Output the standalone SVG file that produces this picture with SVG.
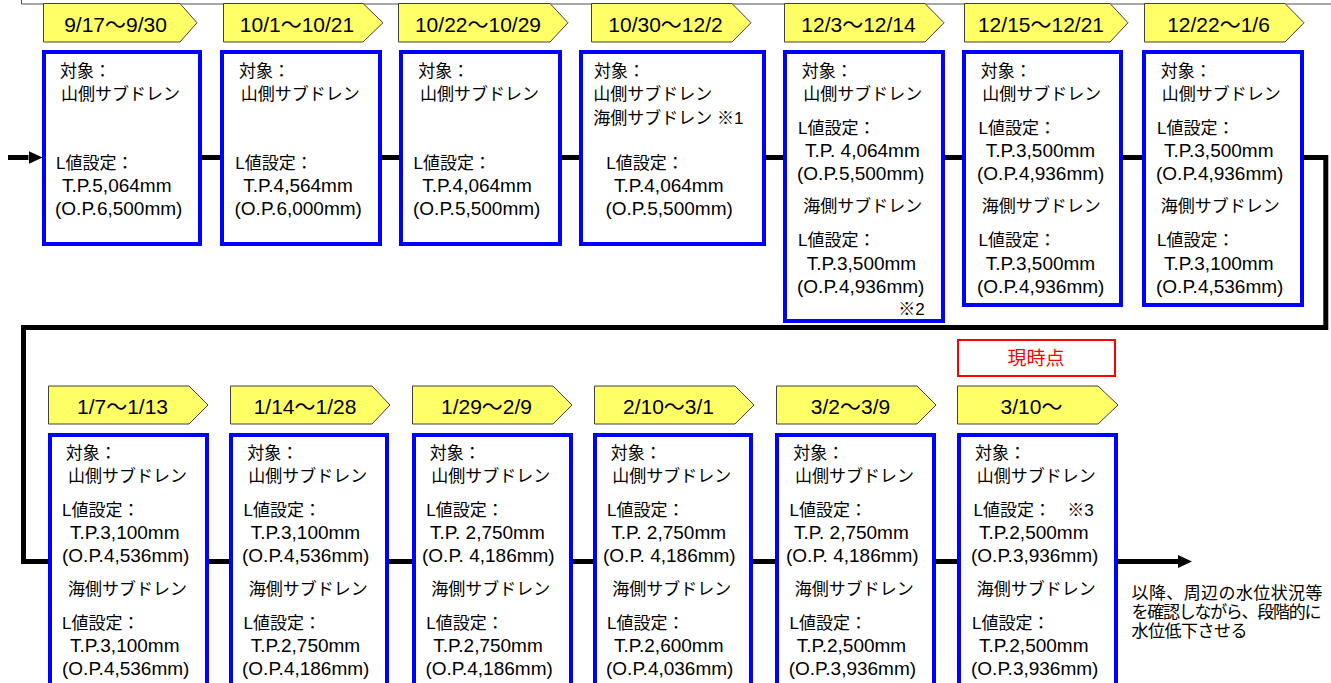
<svg xmlns="http://www.w3.org/2000/svg" width="1331" height="683" viewBox="0 0 1331 683">
<style>
.tag{fill:#FFFF66;stroke:#404040;stroke-width:1}
.box{fill:#fff;stroke:#0000FF;stroke-width:4}
.frame{fill:none;stroke:#505050;stroke-width:1}
.conn{fill:none;stroke:#000;stroke-width:5}
text{font-family:"Liberation Sans","Noto Sans CJK JP",sans-serif;fill:#000}
.tt{font-size:21px;text-anchor:middle}
.j{font-size:17px}
.n{font-size:19px}
.now{font-size:19px;fill:#FF0000;text-anchor:middle}
.nowbox{fill:#fff;stroke:#FF0000;stroke-width:2}
</style>
<defs>
<marker id="ah" markerUnits="userSpaceOnUse" markerWidth="14" markerHeight="13" refX="0" refY="6.5" orient="auto">
<path d="M0,0 L14,6.5 L0,13 z" fill="#000"/>
</marker>
</defs>
<rect width="1331" height="683" fill="#fff"/>
<path class="frame" d="M21.5,0 V4 H1331"/>

<g id="connectors">
<path class="conn" d="M8,157.5 H28.5" marker-end="url(#ah)"/>
<path class="conn" d="M190,157.5 H1325.8 V327.5 H23.5 V561.5 H1178" marker-end="url(#ah)"/>
</g>

<g id="tags">
<g id="tag1"><polygon class="tag" points="43.5,3.5 180,3.5 197,22.75 180,42 43.5,42"/><text class="tt" x="115.5" y="31.5">9/17〜9/30</text></g>
<g id="tag2"><polygon class="tag" points="223.5,3.5 363,3.5 383,22.75 363,42 223.5,42"/><text class="tt" x="297" y="31.5">10/1〜10/21</text></g>
<g id="tag3"><polygon class="tag" points="398.5,3.5 550,3.5 568,22.75 550,42 398.5,42"/><text class="tt" x="478" y="31.5">10/22〜10/29</text></g>
<g id="tag4"><polygon class="tag" points="591.5,3.5 732,3.5 751,22.75 732,42 591.5,42"/><text class="tt" x="665.5" y="31.5">10/30〜12/2</text></g>
<g id="tag5"><polygon class="tag" points="784.5,3.5 925,3.5 944,22.75 925,42 784.5,42"/><text class="tt" x="858.5" y="31.5">12/3〜12/14</text></g>
<g id="tag6"><polygon class="tag" points="964.5,3.5 1110,3.5 1128,22.75 1110,42 964.5,42"/><text class="tt" x="1041" y="31.5">12/15〜12/21</text></g>
<g id="tag7"><polygon class="tag" points="1144.5,3.5 1285,3.5 1304,22.75 1285,42 1144.5,42"/><text class="tt" x="1218.5" y="31.5">12/22〜1/6</text></g>
<g id="tag8"><polygon class="tag" points="48.5,386 189,386 208,405 189,424 48.5,424"/><text class="tt" x="122.5" y="414">1/7〜1/13</text></g>
<g id="tag9"><polygon class="tag" points="230.5,386 372,386 390,405 372,424 230.5,424"/><text class="tt" x="305" y="414">1/14〜1/28</text></g>
<g id="tag10"><polygon class="tag" points="412.5,386 553,386 572,405 553,424 412.5,424"/><text class="tt" x="486.5" y="414">1/29〜2/9</text></g>
<g id="tag11"><polygon class="tag" points="594.5,386 735,386 754,405 735,424 594.5,424"/><text class="tt" x="668.5" y="414">2/10〜3/1</text></g>
<g id="tag12"><polygon class="tag" points="776.5,386 917,386 936,405 917,424 776.5,424"/><text class="tt" x="850.5" y="414">3/2〜3/9</text></g>
<g id="tag13"><polygon class="tag" points="957.5,386 1098,386 1118,405 1098,424 957.5,424"/><text class="tt" x="1031.5" y="414">3/10〜</text></g>
</g>

<g id="now">
<rect class="nowbox" x="958" y="340" width="157" height="36"/>
<text class="now" x="1036" y="364.5">現時点</text>
</g>

<g id="box1">
<rect class="box" x="44" y="52" width="156" height="192"/>
<text class="j" x="60" y="77">対象：</text>
<text class="j" x="61" y="100">山側サブドレン</text>
<text class="j" x="56" y="169">L値設定：</text>
<text class="n" x="62" y="192">T.P.5,064mm</text>
<text class="n" x="55" y="215">(O.P.6,500mm)</text>
</g>
<g id="box2">
<rect class="box" x="222" y="52" width="158" height="192"/>
<text class="j" x="239" y="77">対象：</text>
<text class="j" x="240.7" y="100">山側サブドレン</text>
<text class="j" x="235.3" y="169">L値設定：</text>
<text class="n" x="243.3" y="192">T.P.4,564mm</text>
<text class="n" x="234.5" y="215">(O.P.6,000mm)</text>
</g>
<g id="box3">
<rect class="box" x="401" y="52" width="159" height="192"/>
<text class="j" x="418.3" y="77">対象：</text>
<text class="j" x="420" y="100">山側サブドレン</text>
<text class="j" x="413.6" y="169">L値設定：</text>
<text class="n" x="422.3" y="192">T.P.4,064mm</text>
<text class="n" x="413" y="215">(O.P.5,500mm)</text>
</g>
<g id="box4">
<rect class="box" x="581" y="52" width="183" height="192"/>
<text class="j" x="594" y="77">対象：</text>
<text class="j" x="593.3" y="100">山側サブドレン</text>
<text class="j" x="593.3" y="124">海側サブドレン ※1</text>
<text class="j" x="606.3" y="169">L値設定：</text>
<text class="n" x="614" y="192">T.P.4,064mm</text>
<text class="n" x="605.4" y="215">(O.P.5,500mm)</text>
</g>
<g id="box5">
<rect class="box" x="785" y="52" width="158" height="269"/>
<text class="j" x="801.7" y="77">対象：</text>
<text class="j" x="803.3" y="100">山側サブドレン</text>
<text class="j" x="798" y="134">L値設定：</text>
<text class="n" x="805" y="157">T.P. 4,064mm</text>
<text class="n" x="797" y="180">(O.P.5,500mm)</text>
<text class="j" x="803.3" y="212">海側サブドレン</text>
<text class="j" x="798" y="246">L値設定：</text>
<text class="n" x="806.7" y="270">T.P.3,500mm</text>
<text class="n" x="797" y="293">(O.P.4,936mm)</text>
<text class="j" x="898.3" y="315">※2</text>
</g>
<g id="box6">
<rect class="box" x="964" y="52" width="157" height="253"/>
<text class="j" x="980.7" y="77">対象：</text>
<text class="j" x="982.3" y="100">山側サブドレン</text>
<text class="j" x="978.6" y="134">L値設定：</text>
<text class="n" x="985.7" y="157">T.P.3,500mm</text>
<text class="n" x="977" y="180">(O.P.4,936mm)</text>
<text class="j" x="981.7" y="212">海側サブドレン</text>
<text class="j" x="978.6" y="246">L値設定：</text>
<text class="n" x="985.7" y="270">T.P.3,500mm</text>
<text class="n" x="977" y="293">(O.P.4,936mm)</text>
</g>
<g id="box7">
<rect class="box" x="1144" y="52" width="158" height="253"/>
<text class="j" x="1160.7" y="77">対象：</text>
<text class="j" x="1161.7" y="100">山側サブドレン</text>
<text class="j" x="1157" y="134">L値設定：</text>
<text class="n" x="1164" y="157">T.P.3,500mm</text>
<text class="n" x="1156" y="180">(O.P.4,936mm)</text>
<text class="j" x="1160.7" y="212">海側サブドレン</text>
<text class="j" x="1157" y="246">L値設定：</text>
<text class="n" x="1164" y="270">T.P.3,100mm</text>
<text class="n" x="1156" y="293">(O.P.4,536mm)</text>
</g>

<g id="box8">
<rect class="box" x="50" y="435" width="157" height="270"/>
<text class="j" x="65.7" y="459">対象：</text>
<text class="j" x="68" y="482">山側サブドレン</text>
<text class="j" x="62" y="516">L値設定：</text>
<text class="n" x="70" y="539">T.P.3,100mm</text>
<text class="n" x="62" y="562">(O.P.4,536mm)</text>
<text class="j" x="68" y="595">海側サブドレン</text>
<text class="j" x="62" y="629">L値設定：</text>
<text class="n" x="70" y="652">T.P.3,100mm</text>
<text class="n" x="62" y="675">(O.P.4,536mm)</text>
</g>
<g id="box9">
<rect class="box" x="231" y="435" width="156" height="270"/>
<text class="j" x="247.3" y="459">対象：</text>
<text class="j" x="248.3" y="482">山側サブドレン</text>
<text class="j" x="243.6" y="516">L値設定：</text>
<text class="n" x="250.7" y="539">T.P.3,100mm</text>
<text class="n" x="242" y="562">(O.P.4,536mm)</text>
<text class="j" x="248.7" y="595">海側サブドレン</text>
<text class="j" x="243.6" y="629">L値設定：</text>
<text class="n" x="250.7" y="652">T.P.2,750mm</text>
<text class="n" x="242" y="675">(O.P.4,186mm)</text>
</g>
<g id="box10">
<rect class="box" x="414" y="435" width="157" height="270"/>
<text class="j" x="429.7" y="459">対象：</text>
<text class="j" x="431.3" y="482">山側サブドレン</text>
<text class="j" x="426.3" y="516">L値設定：</text>
<text class="n" x="430" y="539">T.P. 2,750mm</text>
<text class="n" x="422" y="562">(O.P. 4,186mm)</text>
<text class="j" x="431.3" y="595">海側サブドレン</text>
<text class="j" x="426.3" y="629">L値設定：</text>
<text class="n" x="433.3" y="652">T.P.2,750mm</text>
<text class="n" x="425.4" y="675">(O.P.4,186mm)</text>
</g>
<g id="box11">
<rect class="box" x="595" y="435" width="156" height="270"/>
<text class="j" x="610.7" y="459">対象：</text>
<text class="j" x="612.3" y="482">山側サブドレン</text>
<text class="j" x="607" y="516">L値設定：</text>
<text class="n" x="611.3" y="539">T.P. 2,750mm</text>
<text class="n" x="603" y="562">(O.P. 4,186mm)</text>
<text class="j" x="612.3" y="595">海側サブドレン</text>
<text class="j" x="607" y="629">L値設定：</text>
<text class="n" x="614" y="652">T.P.2,600mm</text>
<text class="n" x="606" y="675">(O.P.4,036mm)</text>
</g>
<g id="box12">
<rect class="box" x="777" y="435" width="157" height="270"/>
<text class="j" x="793.3" y="459">対象：</text>
<text class="j" x="795" y="482">山側サブドレン</text>
<text class="j" x="789.6" y="516">L値設定：</text>
<text class="n" x="794" y="539">T.P. 2,750mm</text>
<text class="n" x="786" y="562">(O.P. 4,186mm)</text>
<text class="j" x="794.7" y="595">海側サブドレン</text>
<text class="j" x="789.6" y="629">L値設定：</text>
<text class="n" x="796.7" y="652">T.P.2,500mm</text>
<text class="n" x="788.7" y="675">(O.P.3,936mm)</text>
</g>
<g id="box13">
<rect class="box" x="959" y="435" width="157" height="270"/>
<text class="j" x="975" y="459">対象：</text>
<text class="j" x="976.7" y="482">山側サブドレン</text>
<text class="j" x="973.6" y="516">L値設定：<tspan x="1067.3">※3</tspan></text>
<text class="n" x="979" y="539">T.P.2,500mm</text>
<text class="n" x="971" y="562">(O.P.3,936mm)</text>
<text class="j" x="976.7" y="595">海側サブドレン</text>
<text class="j" x="972" y="629">L値設定：</text>
<text class="n" x="979" y="652">T.P.2,500mm</text>
<text class="n" x="971" y="675">(O.P.3,936mm)</text>
</g>

<g id="note">
<text class="j" x="1131.5" y="599" textLength="191" lengthAdjust="spacing">以降、周辺の水位状況等</text>
<text class="j" x="1131.5" y="618" textLength="190" lengthAdjust="spacing">を確認しながら、段階的に</text>
<text class="j" x="1131.5" y="637" textLength="116" lengthAdjust="spacing">水位低下させる</text>
</g>
</svg>
